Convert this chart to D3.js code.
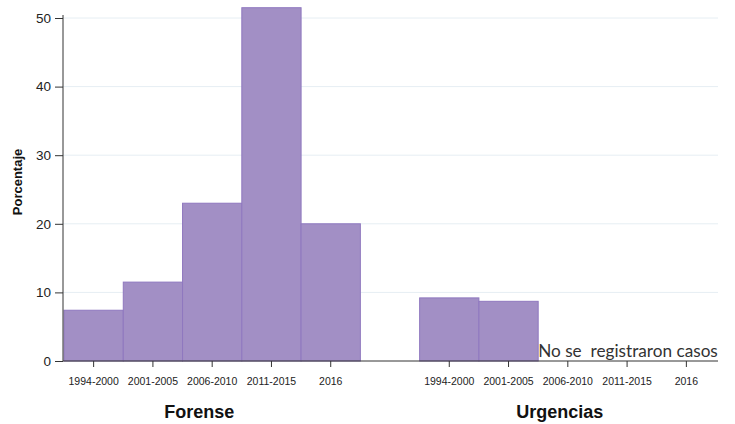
<!DOCTYPE html>
<html><head><meta charset="utf-8">
<script src="https://cdn.jsdelivr.net/npm/d3@7"></script>
<style>body{margin:0;background:#fff}svg{display:block}</style>
</head><body>
<svg id="c" width="735" height="424"></svg>
<script>
const periods = ["1994-2000","2001-2005","2006-2010","2011-2015","2016"];
const groups = ["Forense","Urgencias"];
const forenseValues = [7.4, 11.5, 23.0, 51.5, 20.0];
const urgenciasValues = [9.2, 8.7, null, null, null];
const yTicks = [0,10,20,30,40,50];
const noteText = "No se  registraron casos";

(function(){
const svg = d3.select("#c");
const mLeft = 63, mRight = 718, mBottom = 361;
const slots = [];
periods.forEach((p,i)=>slots.push({g:0,p,i,key:"F"+i}));
slots.push({key:"gap"});
periods.forEach((p,i)=>slots.push({g:1,p,i,key:"U"+i}));
const x = d3.scaleBand().domain(slots.map(s=>s.key)).range([mLeft+1,716]).paddingInner(0).paddingOuter(0);
const y = d3.scaleLinear().domain([0,50]).range([mBottom,18]);
const sans = "Liberation Sans, Arial, sans-serif";

svg.append("g").selectAll("line").data(yTicks.filter(t=>t>0)).join("line")
  .attr("x1",mLeft).attr("x2",mRight).attr("y1",d=>y(d)).attr("y2",d=>y(d))
  .attr("stroke","#e6eef3").attr("stroke-width",1);

const data = [];
slots.forEach(s=>{
  if(s.key==="gap") return;
  const v = s.g===0 ? forenseValues[s.i] : urgenciasValues[s.i];
  if(v!=null) data.push({key:s.key,v});
});
svg.append("g").selectAll("rect").data(data).join("rect")
  .attr("x",d=>x(d.key)).attr("width",x.bandwidth())
  .attr("y",d=>y(d.v)).attr("height",d=>y(0)-y(d.v))
  .attr("fill","#a28fc5").attr("stroke","#8f78bf").attr("stroke-width",1);

const ya = svg.append("g").attr("transform",`translate(${mLeft},0)`)
  .call(d3.axisLeft(y).tickValues(yTicks).tickSize(8).tickPadding(4));
ya.select(".domain").attr("d",`M0,15V${mBottom}`).attr("stroke","#333");
ya.selectAll(".tick line").attr("stroke","#333");
ya.selectAll("text").attr("font-family",sans).attr("font-size",13.5).attr("fill","#222");

const xa = svg.append("g").attr("transform",`translate(0,${mBottom})`)
  .call(d3.axisBottom(x).tickValues(slots.filter(s=>s.key!=="gap").map(s=>s.key))
    .tickFormat(k=>slots.find(s=>s.key===k).p).tickSize(6).tickPadding(11));
xa.select(".domain").attr("d",`M${mLeft},0H${mRight}`).attr("stroke","#333");
xa.selectAll(".tick line").attr("stroke","#333");
xa.selectAll("text").attr("font-family",sans).attr("font-size",10.5).attr("fill","#222");

const groupOffsets = [-13, -8];
groups.forEach((g,gi)=>{
  const k0 = (gi===0?"F":"U")+"0", k4=(gi===0?"F":"U")+"4";
  const cx = (x(k0)+x(k4)+x.bandwidth())/2;
  svg.append("text").attr("x",cx+groupOffsets[gi]).attr("y",418).attr("text-anchor","middle")
    .attr("font-family",sans).attr("font-weight","bold")
    .attr("font-size",18).attr("fill","#111").text(g);
});

svg.append("text").attr("transform",`translate(22,182) rotate(-90)`)
  .attr("text-anchor","middle").attr("font-family",sans)
  .attr("font-weight","bold").attr("font-size",13).attr("fill","#111").text("Porcentaje");

svg.append("text").attr("x",x("U2")).attr("y",mBottom-4)
  .attr("font-family","Lato, sans-serif").attr("font-size",17.2).attr("fill","#333")
  .style("white-space","pre").text(noteText);
})();
</script>
</body></html>
